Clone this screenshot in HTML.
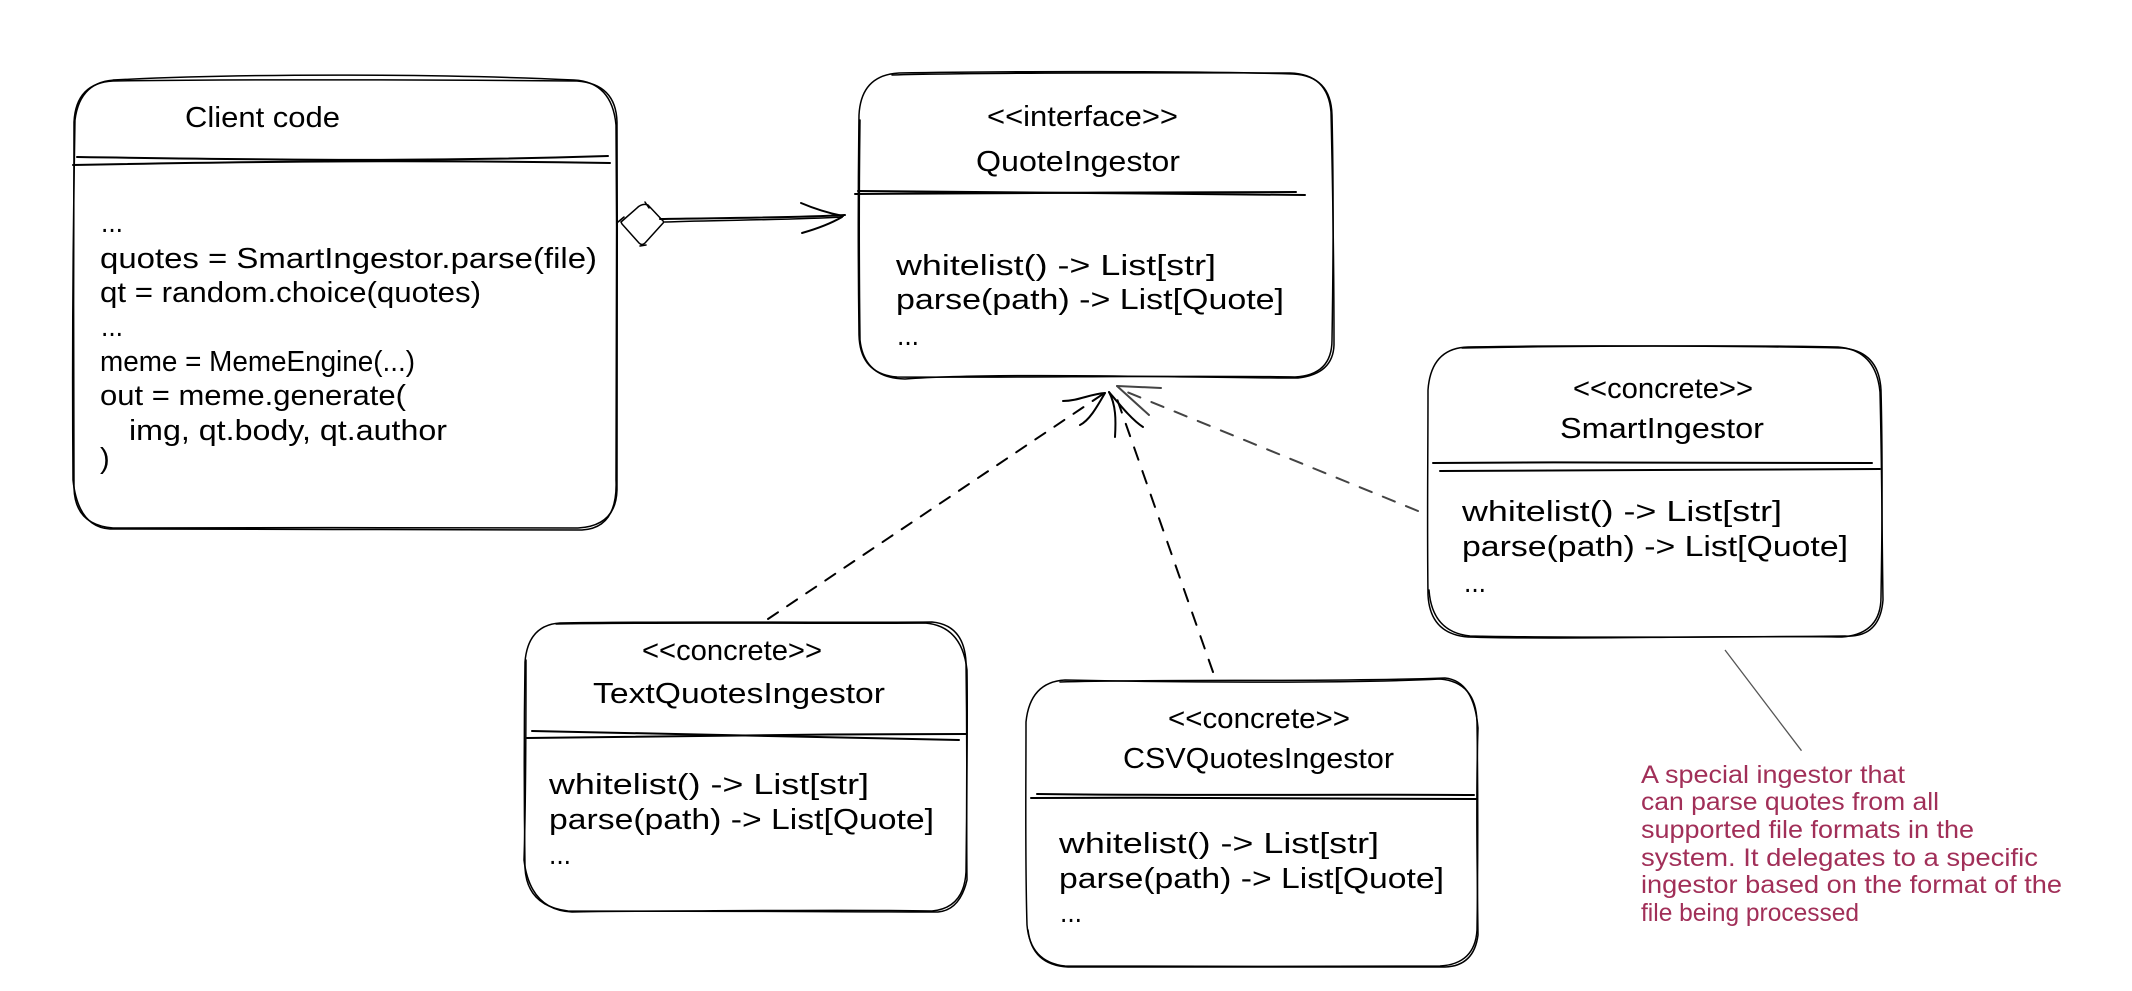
<!DOCTYPE html>
<html lang="en">
<head>
<meta charset="utf-8">
<title>Quote ingestor diagram</title>
<style>
html,body{margin:0;padding:0;background:#fff;width:2132px;height:991px;overflow:hidden}
svg{display:block}
text{font-family:"Liberation Sans",sans-serif;font-size:29px;fill:#000}
.n{font-size:25px;fill:#a12f58}
.b{fill:none;stroke:#000;stroke-width:1.5;stroke-linecap:round}
.d{fill:none;stroke:#000;stroke-width:2;stroke-linecap:round}
.g{fill:none;stroke:#444;stroke-width:2;stroke-linecap:round}
.a{fill:none;stroke:#000;stroke-width:2;stroke-linecap:round;stroke-linejoin:round}
</style>
</head>
<body>
<svg width="2132" height="991" viewBox="0 0 2132 991" xmlns="http://www.w3.org/2000/svg">
<rect width="2132" height="991" fill="#fff"/>

<!-- Client code -->
<path class="b" d="M113 81 C250 79 450 80 577 81 Q616 84 617 122 C618 250 616 400 617 490 Q616 526 578 528 C450 527 250 528 113 528 Q75 525 74 488 C73 380 74 230 74 122 Q76 83 113 81Z"/>
<path class="b" d="M113 80 C250 73 450 74 574 80 Q612 82 616 125 C617 250 617 400 616 480 Q618 528 582 530 C450 530 250 529 110 529 Q78 527 73 480 C72 350 73 230 75 120 Q80 80 118 80"/>
<path class="d" d="M77 157 C280 160 420 162 608 156"/>
<path class="d" d="M73 165 C280 161 420 160 610 163"/>
<text x="185" y="127" textLength="155" lengthAdjust="spacingAndGlyphs">Client code</text>
<text x="101" y="232" textLength="22" lengthAdjust="spacingAndGlyphs">...</text>
<text x="100" y="268" textLength="497" lengthAdjust="spacingAndGlyphs">quotes = SmartIngestor.parse(file)</text>
<text x="100" y="302" textLength="381" lengthAdjust="spacingAndGlyphs">qt = random.choice(quotes)</text>
<text x="101" y="336" textLength="22" lengthAdjust="spacingAndGlyphs">...</text>
<text x="100" y="371" textLength="315" lengthAdjust="spacingAndGlyphs">meme = MemeEngine(...)</text>
<text x="100" y="405" textLength="306" lengthAdjust="spacingAndGlyphs">out = meme.generate(</text>
<text x="129" y="440" textLength="318" lengthAdjust="spacingAndGlyphs">img, qt.body, qt.author</text>
<text x="100" y="468">)</text>

<!-- QuoteIngestor -->
<path class="b" d="M899 73 C1000 71 1200 71 1293 74 Q1331 76 1332 115 C1334 200 1333 280 1332 340 Q1332 375 1295 377 C1200 375 1000 378 897 377 Q860 374 859 335 C858 260 858 190 859 115 Q861 75 899 73Z"/>
<path class="b" d="M892 75 C1000 72 1200 73 1290 73 Q1328 74 1331 112 C1333 200 1334 280 1334 345 Q1333 374 1298 378 C1200 378 1000 372 905 379 Q864 378 860 340 C859 260 859 190 860 120"/>
<path class="d" d="M855 194 C1000 192 1150 193 1296 192"/>
<path class="d" d="M858 191 C1000 193 1150 193 1305 195"/>
<text x="987" y="126" textLength="191" lengthAdjust="spacingAndGlyphs">&lt;&lt;interface&gt;&gt;</text>
<text x="976" y="171" textLength="204" lengthAdjust="spacingAndGlyphs">QuoteIngestor</text>
<text x="896" y="275" textLength="320" lengthAdjust="spacingAndGlyphs">whitelist() -&gt; List[str]</text>
<text x="896" y="309" textLength="388" lengthAdjust="spacingAndGlyphs">parse(path) -&gt; List[Quote]</text>
<text x="897" y="345" textLength="22" lengthAdjust="spacingAndGlyphs">...</text>

<!-- SmartIngestor -->
<path class="b" d="M1468 347 C1560 345 1750 346 1842 348 Q1879 351 1881 390 C1883 470 1882 540 1881 597 Q1881 634 1842 637 C1750 635 1560 640 1468 637 Q1430 634 1428 595 C1427 520 1428 460 1428 390 Q1431 348 1468 347Z"/>
<path class="b" d="M1462 348 C1560 346 1750 345 1838 347 Q1876 350 1880 392 C1882 470 1882 540 1883 600 Q1880 638 1845 636 C1750 637 1560 638 1470 636 Q1432 632 1429 590"/>
<path class="d" d="M1433 463 C1580 462 1730 462 1872 463"/>
<path class="d" d="M1440 471 C1580 470 1730 469 1880 469"/>
<text x="1573" y="398" textLength="180" lengthAdjust="spacingAndGlyphs">&lt;&lt;concrete&gt;&gt;</text>
<text x="1560" y="438" textLength="204" lengthAdjust="spacingAndGlyphs">SmartIngestor</text>
<text x="1462" y="521" textLength="320" lengthAdjust="spacingAndGlyphs">whitelist() -&gt; List[str]</text>
<text x="1462" y="556" textLength="386" lengthAdjust="spacingAndGlyphs">parse(path) -&gt; List[Quote]</text>
<text x="1464" y="592" textLength="22" lengthAdjust="spacingAndGlyphs">...</text>

<!-- TextQuotesIngestor -->
<path class="b" d="M560 623 C650 621 830 623 932 622 Q964 625 966 662 C967 730 967 800 966 872 Q964 908 932 911 C830 909 650 912 568 911 Q527 906 525 868 C524 800 524 730 525 662 Q528 625 560 623Z"/>
<path class="b" d="M556 624 C650 622 830 624 925 623 Q962 626 967 670 C968 730 966 800 967 880 Q960 910 938 912 C830 912 650 910 572 912 Q530 910 524 860 C526 800 526 730 526 660"/>
<path class="d" d="M532 731 C680 734 820 736 959 740"/>
<path class="d" d="M527 738 C680 736 820 734 966 734"/>
<text x="642" y="660" textLength="180" lengthAdjust="spacingAndGlyphs">&lt;&lt;concrete&gt;&gt;</text>
<text x="593" y="703" textLength="292" lengthAdjust="spacingAndGlyphs">TextQuotesIngestor</text>
<text x="549" y="794" textLength="320" lengthAdjust="spacingAndGlyphs">whitelist() -&gt; List[str]</text>
<text x="549" y="829" textLength="385" lengthAdjust="spacingAndGlyphs">parse(path) -&gt; List[Quote]</text>
<text x="549" y="864" textLength="22" lengthAdjust="spacingAndGlyphs">...</text>

<!-- CSVQuotesIngestor -->
<path class="b" d="M1065 680 C1160 682 1340 684 1440 679 Q1476 682 1477 722 C1478 790 1478 860 1477 930 Q1475 964 1440 966 C1340 967 1160 966 1065 966 Q1030 962 1027 925 C1025 860 1026 790 1026 722 Q1030 682 1065 680Z"/>
<path class="b" d="M1060 682 C1160 679 1340 682 1445 678 Q1474 681 1478 728 C1476 790 1477 860 1478 935 Q1474 966 1445 967 C1340 966 1160 968 1068 967 Q1032 965 1028 930"/>
<path class="d" d="M1037 794 C1180 796 1330 794 1474 795"/>
<path class="d" d="M1031 798 C1180 797 1330 799 1476 799"/>
<text x="1168" y="728" textLength="182" lengthAdjust="spacingAndGlyphs">&lt;&lt;concrete&gt;&gt;</text>
<text x="1123" y="768" textLength="271" lengthAdjust="spacingAndGlyphs">CSVQuotesIngestor</text>
<text x="1059" y="853" textLength="320" lengthAdjust="spacingAndGlyphs">whitelist() -&gt; List[str]</text>
<text x="1059" y="888" textLength="385" lengthAdjust="spacingAndGlyphs">parse(path) -&gt; List[Quote]</text>
<text x="1060" y="922" textLength="22" lengthAdjust="spacingAndGlyphs">...</text>

<!-- Aggregation arrow -->
<path class="b" d="M621 222 L637 208 Q642 203 648 205 L664 222 L645 243 Q642 246 639 243 L622 224Z"/>
<path class="b" d="M618 222 L624 217 M645 202 L649 208 M640 246 L646 245"/>
<path class="d" d="M660 219 C720 218 790 218 845 215"/>
<path class="b" d="M665 222 C720 220 790 220 842 217"/>
<path class="a" d="M801 203 C815 209 828 213 843 216"/>
<path class="a" d="M802 233 C816 229 830 224 842 217"/>

<!-- Dashed connectors -->
<path class="a" stroke-dasharray="12 11" d="M768 619 L1103 394"/>
<path class="a" d="M1063 401 C1078 401 1090 394 1105 393"/>
<path class="a" d="M1080 425 C1090 420 1098 405 1105 393"/>
<path class="a" stroke-dasharray="13 12" d="M1213 672 L1116 396"/>
<path class="a" d="M1115 437 C1116 420 1116 405 1109 392"/>
<path class="a" d="M1143 427 C1132 420 1120 405 1109 392"/>
<path class="g" stroke-dasharray="13 12" d="M1418 511 L1122 390"/>
<path class="g" d="M1117 386 L1161 388"/>
<path class="g" d="M1117 386 L1149 415"/>

<!-- Note -->
<path d="M1725 650 L1801.500 750.700" fill="none" stroke="#555" stroke-width="1.300"/>
<text class="n" x="1641" y="783" textLength="264" lengthAdjust="spacingAndGlyphs">A special ingestor that</text>
<text class="n" x="1641" y="810" textLength="298" lengthAdjust="spacingAndGlyphs">can parse quotes from all</text>
<text class="n" x="1641" y="838" textLength="333" lengthAdjust="spacingAndGlyphs">supported file formats in the</text>
<text class="n" x="1641" y="866" textLength="397" lengthAdjust="spacingAndGlyphs">system. It delegates to a specific</text>
<text class="n" x="1641" y="893" textLength="421" lengthAdjust="spacingAndGlyphs">ingestor based on the format of the</text>
<text class="n" x="1641" y="921" textLength="218" lengthAdjust="spacingAndGlyphs">file being processed</text>
</svg>
</body>
</html>
